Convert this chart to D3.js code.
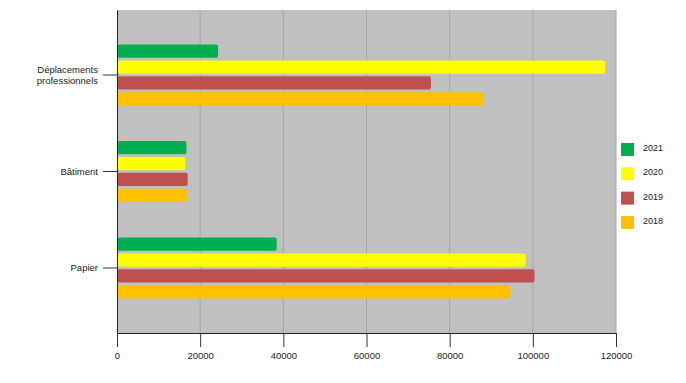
<!DOCTYPE html>
<html>
<head>
<meta charset="UTF-8">
<script src="https://cdn.jsdelivr.net/npm/d3@7"></script>
<style>
body { margin: 0; background: #fff; }
text { font-family: "Liberation Sans", Arial, sans-serif; fill: #222; }
</style>
</head>
<body>
<script>
// data
var categories = ["Déplacements professionnels", "Bâtiment", "Papier"];
var years = ["2021", "2020", "2019", "2018"];
var colors = ["#00b050", "#ffff00", "#c0504d", "#ffc000"];
var values2021 = [24300, 16700, 38400];
var values2020 = [117400, 16400, 98300];
var values2019 = [75500, 17000, 100400];
var values2018 = [88200, 16900, 94600];
var xTicks = [0, 20000, 40000, 60000, 80000, 100000, 120000];

var series = [values2021, values2020, values2019, values2018];

var W = 686, H = 383;
var m = {left: 117, right: 616, top: 10, bottom: 333};

var svg = d3.select("body").append("svg")
    .attr("width", W).attr("height", H);

var x = d3.scaleLinear().domain([0, 120000]).range([m.left, m.right]);
var y = d3.scaleBand().domain(categories).range([m.top, m.bottom])
    .paddingInner(0).paddingOuter(0.1736);
var yy = d3.scaleBand().domain(years).range([0, 61]).paddingInner(0.17);

// plot background
svg.append("rect")
    .attr("x", m.left).attr("y", m.top)
    .attr("width", m.right - m.left).attr("height", m.bottom - m.top)
    .attr("fill", "#c0c0c0");

// grid
svg.append("g").selectAll("line")
    .data(xTicks.slice(1))
  .enter().append("line")
    .attr("x1", function(d) { return x(d); })
    .attr("x2", function(d) { return x(d); })
    .attr("y1", m.top).attr("y2", m.bottom)
    .attr("stroke", "#a6a6a6").attr("stroke-width", 1);

// bars
categories.forEach(function(c, i) {
  var c0 = y(c) + y.bandwidth() / 2 - 30.5;
  years.forEach(function(yr, j) {
    svg.append("rect")
      .attr("x", x(0) + 0.5)
      .attr("y", c0 + yy(yr))
      .attr("width", x(series[j][i]) - x(0) - 0.5)
      .attr("height", yy.bandwidth())
      .attr("rx", 2)
      .attr("fill", colors[j]);
  });
});

// x axis
var xAxis = svg.append("g")
    .attr("transform", "translate(0," + m.bottom + ")")
    .call(d3.axisBottom(x).tickValues(xTicks).tickFormat(d3.format("d"))
      .tickSize(14).tickPadding(5));
xAxis.select(".domain").attr("stroke", "#222");
xAxis.selectAll(".tick line").attr("stroke", "#333");
xAxis.selectAll("text").attr("font-size", 9.5)
    .style("font-family", "'Liberation Sans', Arial, sans-serif").attr("fill", "#222");

// y axis
var yAxis = svg.append("g")
    .attr("transform", "translate(" + m.left + ",0)")
    .call(d3.axisLeft(y).tickSize(14).tickPadding(5).tickSizeOuter(0));
yAxis.select(".domain").attr("stroke", "#222");
yAxis.selectAll(".tick line").attr("stroke", "#333");
yAxis.selectAll(".tick text")
    .attr("font-size", 9.5)
    .style("font-family", "'Liberation Sans', Arial, sans-serif").attr("fill", "#222")
    .each(function(d) {
      var t = d3.select(this);
      if (d === "Déplacements professionnels") {
        t.text(null);
        t.append("tspan").attr("x", -19).attr("dy", "-0.2em").text("Déplacements");
        t.append("tspan").attr("x", -19).attr("dy", "1.1em").text("professionnels");
      }
    });

// legend
var legend = svg.append("g").selectAll("g")
    .data(years)
  .enter().append("g")
    .attr("transform", function(d, i) { return "translate(621," + (143 + i * 24.3) + ")"; });
legend.append("rect")
    .attr("width", 13).attr("height", 13)
    .attr("fill", function(d, i) { return colors[i]; });
legend.append("text")
    .attr("x", 22).attr("y", 7).attr("dy", "0.1em")
    .attr("font-size", 9)
    .text(function(d) { return d; });
</script>
</body>
</html>
